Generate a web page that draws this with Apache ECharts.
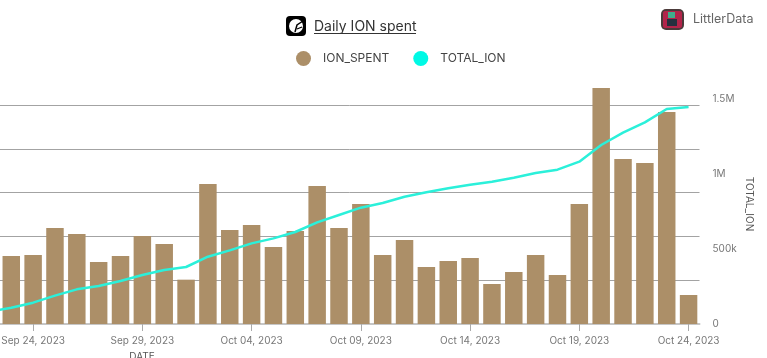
<!DOCTYPE html>
<html>
<head>
<meta charset="utf-8">
<style>
  html, body { margin: 0; padding: 0; background: #fff; }
  #chart { width: 767px; height: 358px; }
</style>
<script src="https://cdn.jsdelivr.net/npm/echarts@6/dist/echarts.min.js"></script>
</head>
<body>
<div id="chart"></div>
<script>
// first date sits off the left edge, only the line coming in from it shows
const dates = ['Sep 22, 2023', 'Sep 23, 2023', 'Sep 24, 2023', 'Sep 25, 2023', 'Sep 26, 2023', 'Sep 27, 2023', 'Sep 28, 2023',
  'Sep 29, 2023', 'Sep 30, 2023', 'Oct 01, 2023', 'Oct 02, 2023', 'Oct 03, 2023', 'Oct 04, 2023', 'Oct 05, 2023',
  'Oct 06, 2023', 'Oct 07, 2023', 'Oct 08, 2023', 'Oct 09, 2023', 'Oct 10, 2023', 'Oct 11, 2023', 'Oct 12, 2023',
  'Oct 13, 2023', 'Oct 14, 2023', 'Oct 15, 2023', 'Oct 16, 2023', 'Oct 17, 2023', 'Oct 18, 2023', 'Oct 19, 2023',
  'Oct 20, 2023', 'Oct 21, 2023', 'Oct 22, 2023', 'Oct 23, 2023', 'Oct 24, 2023']
const ionSpent = [null, 31050, 31500, 43830, 41090, 28300, 31050, 40180, 36530, 20240, 63920, 42920, 45200, 35160,
  42460, 63010, 43830, 54790, 31500, 38350, 26030, 28770, 30140, 18260, 23740, 31500, 22370, 54790,
  107760, 75340, 73510, 96800, 13240]
const totalIon = [82200, 108900, 142200, 188900, 231100, 253300, 286600, 326600, 360000, 380000, 448800, 491000,
  537700, 571000, 613300, 677700, 726600, 775500, 806600, 848800, 877700, 904400, 928800, 948800,
  975500, 1006600, 1028800, 1082100, 1193200, 1275400, 1344300, 1433200, 1446500]

const font = 'Inter'
const chart = echarts.init(document.getElementById('chart'))

const everyFifth = (index) => index % 5 === 2

chart.setOption({
  animation: false,
  textStyle: { fontFamily: font },
  title: [
    {
      text: 'Daily ION spent',
      left: 314,
      top: 20,
      padding: 0,
      textStyle: { fontFamily: font, fontSize: 14, fontWeight: 'normal', color: '#333' }
    },
    {
      text: 'LittlerData',
      left: 693,
      top: 13,
      padding: 0,
      textStyle: { fontFamily: font, fontSize: 12.5, fontWeight: 'normal', color: '#666' }
    }
  ],
  legend: {
    left: 296,
    top: 51,
    padding: 0,
    icon: 'circle',
    itemWidth: 15,
    itemHeight: 15,
    itemGap: 24,
    textStyle: { fontFamily: font, fontSize: 12, color: '#444', padding: [0, 0, 0, 7] },
    data: [
      { name: 'ION_SPENT', itemStyle: { color: '#ac8f68' } },
      { name: 'TOTAL_ION', itemStyle: { color: '#00f9e5' } }
    ]
  },
  grid: { left: -21.5, top: 84, width: 721, height: 240, outerBoundsMode: 'none' },
  xAxis: {
    type: 'category',
    data: dates,
    axisLine: { lineStyle: { color: '#c6c6c6', width: 2 } },
    axisTick: { show: true, alignWithLabel: true, length: 7, interval: everyFifth, lineStyle: { color: '#aaa' } },
    axisLabel: { interval: everyFifth, fontSize: 10, color: '#777', margin: 12 }
  },
  yAxis: [
    {
      type: 'value',
      min: 0,
      max: 109589,
      interval: 20000,
      axisLabel: { show: false },
      axisLine: { show: false },
      axisTick: { show: false },
      splitLine: { showMaxLine: false, lineStyle: { color: '#a3a3a3' } }
    },
    {
      type: 'value',
      name: 'TOTAL_ION',
      nameLocation: 'middle',
      nameRotate: -90,
      nameGap: 44,
      nameMoveOverlap: false,
      nameTextStyle: { fontSize: 10, color: '#555' },
      min: 0,
      max: 1600000,
      interval: 500000,
      axisLine: { show: false },
      axisTick: { show: false },
      splitLine: { show: false },
      axisLabel: {
        showMaxLabel: false,
        fontSize: 10,
        color: '#777',
        margin: 13,
        formatter: (v) => v >= 1000000 ? (v / 1000000) + 'M' : v > 0 ? (v / 1000) + 'k' : '0'
      }
    }
  ],
  graphic: [
    // title icon
    { type: 'rect', shape: { x: 286, y: 16, width: 20, height: 20, r: 4 }, style: { fill: '#000' } },
    { type: 'circle', shape: { cx: 296, cy: 26, r: 7 }, style: { fill: '#fff' } },
    { type: 'polyline', shape: { points: [[295, 32], [297, 25], [303, 21]] }, style: { stroke: '#000', lineWidth: 1.5, fill: null } },
    { type: 'polyline', shape: { points: [[297, 29], [302, 27]] }, style: { stroke: '#000', lineWidth: 1.2, fill: null } },
    // title underline
    { type: 'rect', shape: { x: 314, y: 33, width: 102, height: 1 }, style: { fill: '#333' } },
    // logo
    { type: 'rect', shape: { x: 661, y: 9, width: 23, height: 21, r: 5 }, style: { fill: '#4b3a3a' } },
    { type: 'rect', shape: { x: 663, y: 11, width: 19, height: 17, r: 2 }, style: { fill: '#b3244a' } },
    { type: 'rect', shape: { x: 668, y: 12, width: 7, height: 6 }, style: { fill: '#3fae8c' } },
    { type: 'rect', shape: { x: 667, y: 19, width: 10, height: 7 }, style: { fill: '#26303f' } },
    // x axis name, cut by the bottom edge
    {
      type: 'text',
      style: { text: 'DATE', x: 142, y: 352, align: 'center', fontFamily: font, fontSize: 10, fill: '#555' }
    }
  ],
  series: [
    {
      name: 'ION_SPENT',
      type: 'bar',
      yAxisIndex: 0,
      barCategoryGap: '20%',
      itemStyle: { color: '#ac8f68' },
      data: ionSpent
    },
    {
      name: 'TOTAL_ION',
      type: 'line',
      yAxisIndex: 1,
      showSymbol: false,
      lineStyle: { color: '#2bf0da', width: 2.5 },
      itemStyle: { color: '#2bf0da' },
      data: totalIon
    }
  ]
})
</script>
</body>
</html>
